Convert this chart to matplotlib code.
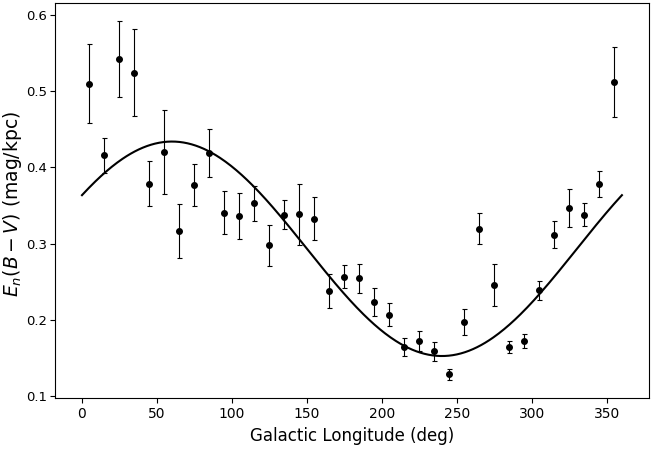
import numpy as np
import matplotlib
matplotlib.use('Agg')
import matplotlib.pyplot as plt

# Datos: longitud galáctica (centro de cada bin) y extinción normalizada
longitude = [5, 15, 25, 35, 45, 55, 65, 75, 85, 95, 105, 115, 125, 135, 145, 155, 165, 175,
             185, 195, 205, 215, 225, 235, 245, 255, 265, 275, 285, 295, 305, 315, 325, 335,
             345, 355]
en_bv = [0.510, 0.416, 0.542, 0.524, 0.379, 0.420, 0.317, 0.377, 0.419, 0.341, 0.336, 0.353,
         0.298, 0.338, 0.339, 0.333, 0.238, 0.257, 0.255, 0.224, 0.207, 0.165, 0.173, 0.159,
         0.129, 0.198, 0.320, 0.246, 0.165, 0.173, 0.239, 0.312, 0.347, 0.338, 0.379, 0.512]
en_err = [0.052, 0.023, 0.050, 0.057, 0.029, 0.055, 0.035, 0.028, 0.032, 0.028, 0.030, 0.023,
          0.027, 0.019, 0.040, 0.028, 0.022, 0.015, 0.019, 0.018, 0.015, 0.012, 0.013, 0.012,
          0.007, 0.017, 0.020, 0.027, 0.008, 0.009, 0.012, 0.018, 0.025, 0.015, 0.017, 0.046]

# Parámetros del ajuste sinusoidal
fit_mean = 0.2935
fit_amp = 0.1405
fit_phase = 60.0

l_fit = np.linspace(0, 360, 400)
e_fit = fit_mean + fit_amp * np.cos(np.radians(l_fit - fit_phase))

fig = plt.figure(figsize=(6.69, 4.5), dpi=100)
ax = fig.add_axes([0.0822, 0.1164, 0.8878, 0.8769])

ax.errorbar(longitude, en_bv, yerr=en_err, fmt='o', color='black', markersize=4,
            ecolor='black', elinewidth=0.8, capsize=1.8, capthick=0.8)
ax.plot(l_fit, e_fit, color='black', linewidth=1.5)

ax.set_yticks([0.1, 0.2, 0.3, 0.4, 0.5, 0.6])
ax.set_xticks([0, 50, 100, 150, 200, 250, 300, 350])
ax.tick_params(labelsize=10)
ax.tick_params(axis='y', labelsize=9.5, pad=2.5)
ax.set_xlabel('Galactic Longitude (deg)', fontsize=12, labelpad=4)
ax.set_ylabel(r'$E_n(B-V)$ (mag/kpc)', fontsize=13.5)
ax.yaxis.set_label_coords(-0.053, 0.49)

fig.savefig('out.png', dpi=100)
